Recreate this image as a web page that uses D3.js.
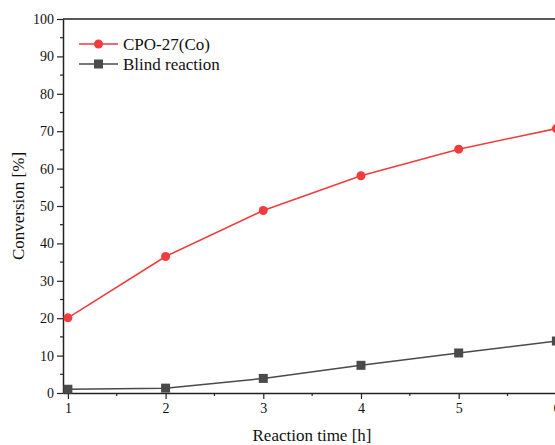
<!DOCTYPE html>
<html>
<head>
<meta charset="utf-8">
<script src="https://cdn.jsdelivr.net/npm/d3@7"></script>
<style>
  body { margin: 0; background: #fff; }
  svg { display: block; }
  text { font-family: "Liberation Serif", "Times New Roman", serif; fill: #111; }
</style>
</head>
<body>
<svg id="chart" width="555" height="445"></svg>
<script>
var hours = [1, 2, 3, 4, 5, 6];
var cpoValues = [20.1, 36.5, 48.8, 58.1, 65.2, 70.7];
var blindValues = [1.0, 1.3, 3.9, 7.4, 10.7, 13.9];
var yTicks = [0, 10, 20, 30, 40, 50, 60, 70, 80, 90, 100];
var xTicks = [1, 2, 3, 4, 5, 6];
var seriesNames = ["CPO-27(Co)", "Blind reaction"];

var svg = d3.select("#chart");
var plotLeft = 63, plotTop = 19, plotBottom = 393;

var x = d3.scaleLinear().domain([0.95, 6.05]).range([plotLeft, plotLeft + 5.1 * 97.7]);
var y = d3.scaleLinear().domain([0, 100]).range([plotBottom, plotTop]);

var axisColor = "#222";

// frame top line
svg.append("line")
    .attr("x1", plotLeft).attr("x2", x(6.05))
    .attr("y1", plotTop).attr("y2", plotTop)
    .attr("stroke", axisColor).attr("stroke-width", 1.5);

// minor ticks
svg.append("g").selectAll("line")
    .data(d3.range(5, 100, 10))
  .enter().append("line")
    .attr("x1", plotLeft - 3).attr("x2", plotLeft)
    .attr("y1", function(d) { return y(d); })
    .attr("y2", function(d) { return y(d); })
    .attr("stroke", axisColor).attr("stroke-width", 1.2);

svg.append("g").selectAll("line")
    .data([1.5, 2.5, 3.5, 4.5, 5.5])
  .enter().append("line")
    .attr("x1", function(d) { return x(d); })
    .attr("x2", function(d) { return x(d); })
    .attr("y1", plotBottom).attr("y2", plotBottom + 3)
    .attr("stroke", axisColor).attr("stroke-width", 1.2);

var yAxis = svg.append("g")
    .attr("transform", "translate(" + plotLeft + ",0)")
    .call(d3.axisLeft(y).tickValues(yTicks).tickSize(6).tickPadding(3).tickSizeOuter(0));

var xAxis = svg.append("g")
    .attr("transform", "translate(0," + plotBottom + ")")
    .call(d3.axisBottom(x).tickValues(xTicks).tickFormat(d3.format("d"))
        .tickSize(6).tickPadding(4).tickSizeOuter(0));

[yAxis, xAxis].forEach(function(ax) {
    ax.select(".domain").attr("stroke", axisColor).attr("stroke-width", 1.5);
    ax.selectAll(".tick line").attr("stroke", axisColor).attr("stroke-width", 1.2);
    ax.selectAll("text")
        .style("font-family", "Liberation Serif, Times New Roman, serif")
        .style("font-size", "14px")
        .attr("fill", "#111");
});

// axis titles
svg.append("text")
    .attr("x", 312).attr("y", 441)
    .attr("text-anchor", "middle")
    .style("font-size", "17px")
    .text("Reaction time [h]");

svg.append("text")
    .attr("transform", "translate(24,206) rotate(-90)")
    .attr("text-anchor", "middle")
    .style("font-size", "17px")
    .text("Conversion [%]");

var line = d3.line()
    .x(function(d, i) { return x(hours[i]); })
    .y(function(d) { return y(d); });

var red = "#f03c3c", gray = "#4a4a4a";

// blind reaction
svg.append("path")
    .datum(blindValues)
    .attr("d", line)
    .attr("fill", "none")
    .attr("stroke", gray)
    .attr("stroke-width", 1.5);

svg.append("g").selectAll("rect")
    .data(blindValues)
  .enter().append("rect")
    .attr("x", function(d, i) { return x(hours[i]) - 4.5; })
    .attr("y", function(d) { return y(d) - 4.5; })
    .attr("width", 9).attr("height", 9)
    .attr("fill", gray);

// CPO-27(Co)
svg.append("path")
    .datum(cpoValues)
    .attr("d", line)
    .attr("fill", "none")
    .attr("stroke", red)
    .attr("stroke-width", 1.5);

svg.append("g").selectAll("circle")
    .data(cpoValues)
  .enter().append("circle")
    .attr("cx", function(d, i) { return x(hours[i]); })
    .attr("cy", function(d) { return y(d); })
    .attr("r", 4.5)
    .attr("fill", red);

// legend
var legend = svg.append("g").attr("transform", "translate(79,44)");
seriesNames.forEach(function(name, i) {
    var g = legend.append("g").attr("transform", "translate(0," + (i * 20) + ")");
    var c = i === 0 ? red : gray;
    g.append("line").attr("x1", 0).attr("x2", 39).attr("y1", 0).attr("y2", 0)
        .attr("stroke", c).attr("stroke-width", 1.5);
    if (i === 0) {
        g.append("circle").attr("cx", 19.5).attr("cy", 0).attr("r", 4.5).attr("fill", c);
    } else {
        g.append("rect").attr("x", 15).attr("y", -4.5).attr("width", 9).attr("height", 9).attr("fill", c);
    }
    g.append("text").attr("x", 44).attr("y", 5.5)
        .style("font-size", "17px")
        .text(name);
});
</script>
</body>
</html>
